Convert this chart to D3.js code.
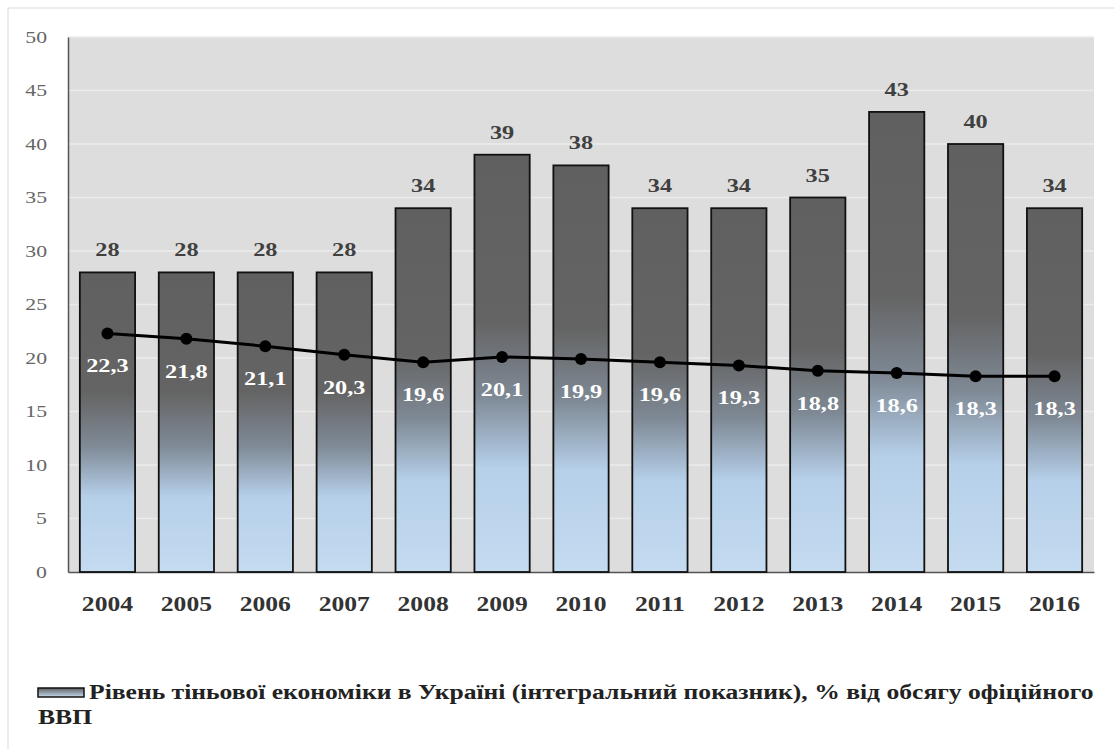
<!DOCTYPE html>
<html>
<head>
<meta charset="utf-8">
<script src="https://cdn.jsdelivr.net/npm/d3@7"></script>
<style>
  body { margin: 0; background: #fff; }
  svg { display: block; font-family: "Liberation Serif", "DejaVu Serif", serif; }
</style>
</head>
<body>
<svg class="figure" width="1114" height="749"></svg>
<script>
var years = ["2004", "2005", "2006", "2007", "2008", "2009", "2010", "2011", "2012", "2013", "2014", "2015", "2016"];
var shadowLevel = [28, 28, 28, 28, 34, 39, 38, 34, 34, 35, 43, 40, 34];
var lineValues = [22.3, 21.8, 21.1, 20.3, 19.6, 20.1, 19.9, 19.6, 19.3, 18.8, 18.6, 18.3, 18.3];
var yTicks = [0, 5, 10, 15, 20, 25, 30, 35, 40, 45, 50];
var legendLine1 = "Рівень тіньової економіки в Україні (інтегральний показник), % від обсягу офіційного";
var legendLine2 = "ВВП";

var svg = d3.select("svg.figure");
var plotLeft = 68, plotRight = 1094, plotTop = 37, plotBottom = 572;
var stretch = 1.28; // the picture is a bit wider than tall

var x = d3.scaleBand().domain(years).range([plotLeft, plotRight]).paddingInner(0.3).paddingOuter(0.15);
var y = d3.scaleLinear().domain([0, 50]).range([plotBottom, plotTop]);

function cx(i) { return x(years[i]) + x.bandwidth() / 2; }

// outer frame
svg.append("rect")
  .attr("x", 8).attr("y", 8)
  .attr("width", 1120).attr("height", 760)
  .attr("fill", "none")
  .attr("stroke", "#d9d9d9");

var defs = svg.append("defs");
var grad = defs.append("linearGradient")
  .attr("id", "barGrad")
  .attr("x1", 0).attr("y1", 0).attr("x2", 0).attr("y2", 1);
grad.append("stop").attr("offset", "0%").attr("stop-color", "#606060");
grad.append("stop").attr("offset", "40%").attr("stop-color", "#646464");
grad.append("stop").attr("offset", "58%").attr("stop-color", "#7f8a96");
grad.append("stop").attr("offset", "75%").attr("stop-color", "#b6d0ea");
grad.append("stop").attr("offset", "100%").attr("stop-color", "#c4dbf0");

var legGrad = defs.append("linearGradient")
  .attr("id", "legGrad")
  .attr("x1", 0).attr("y1", 0).attr("x2", 0).attr("y2", 1);
legGrad.append("stop").attr("offset", "0%").attr("stop-color", "#606060");
legGrad.append("stop").attr("offset", "100%").attr("stop-color", "#c4dbf0");

// plot background
svg.append("rect")
  .attr("x", plotLeft).attr("y", plotTop)
  .attr("width", plotRight - plotLeft).attr("height", plotBottom - plotTop)
  .attr("fill", "#dddddd");

// gridlines
svg.selectAll("line.grid")
  .data(yTicks.filter(function(d) { return d > 0; }))
  .enter()
  .append("line")
  .attr("class", "grid")
  .attr("x1", plotLeft).attr("x2", plotRight)
  .attr("y1", function(d) { return y(d); })
  .attr("y2", function(d) { return y(d); })
  .attr("stroke", "#ebebeb")
  .attr("stroke-width", 1.5);

// y axis
var yAxis = d3.axisLeft(y).tickValues(yTicks).tickSize(0).tickPadding(0);
var gy = svg.append("g").attr("transform", "translate(" + plotLeft + ",0)").call(yAxis);
gy.select(".domain").attr("stroke", "#555").attr("stroke-width", 1.5);
gy.selectAll("text")
  .attr("x", 0)
  .attr("transform", "translate(-21,0) scale(" + stretch + ",1)")
  .attr("fill", "#666")
  .style("font-size", "17px")
  .style("font-family", "Liberation Serif, serif");

// x axis
var xAxis = d3.axisBottom(x).tickSize(0).tickPadding(0);
var gx = svg.append("g").attr("transform", "translate(0," + plotBottom + ")").call(xAxis);
gx.select(".domain").attr("stroke", "#555").attr("stroke-width", 1.5);
gx.selectAll("text")
  .attr("y", 0).attr("dy", 0)
  .attr("transform", "translate(0,39) scale(" + stretch + ",1)")
  .attr("fill", "#333")
  .style("font-size", "20px")
  .style("font-weight", "bold")
  .style("font-family", "Liberation Serif, serif");

// bars
svg.selectAll("rect.bar")
  .data(shadowLevel)
  .enter()
  .append("rect")
  .attr("class", "bar")
  .attr("x", function(d, i) { return x(years[i]); })
  .attr("y", function(d) { return y(d); })
  .attr("width", x.bandwidth())
  .attr("height", function(d) { return y(0) - y(d); })
  .attr("fill", "url(#barGrad)")
  .attr("stroke", "#111")
  .attr("stroke-width", 1.8);

svg.selectAll("text.barLabel")
  .data(shadowLevel)
  .enter()
  .append("text")
  .attr("class", "barLabel")
  .attr("transform", function(d, i) {
    return "translate(" + cx(i) + "," + (y(d) - 16) + ") scale(" + stretch + ",1)";
  })
  .attr("text-anchor", "middle")
  .attr("fill", "#404040")
  .style("font-size", "19px")
  .style("font-weight", "bold")
  .text(function(d) { return d; });

// line
var line = d3.line()
  .x(function(d, i) { return cx(i); })
  .y(function(d) { return y(d); });

svg.append("path")
  .datum(lineValues)
  .attr("d", line)
  .attr("fill", "none")
  .attr("stroke", "#000")
  .attr("stroke-width", 3);

svg.selectAll("circle.pt")
  .data(lineValues)
  .enter()
  .append("circle")
  .attr("class", "pt")
  .attr("cx", function(d, i) { return cx(i); })
  .attr("cy", function(d) { return y(d); })
  .attr("r", 6)
  .attr("fill", "#000");

svg.selectAll("text.ptLabel")
  .data(lineValues)
  .enter()
  .append("text")
  .attr("class", "ptLabel")
  .attr("transform", function(d, i) {
    return "translate(" + cx(i) + "," + (y(d) + 39) + ") scale(" + stretch + ",1)";
  })
  .attr("text-anchor", "middle")
  .attr("fill", "#fff")
  .style("font-size", "19px")
  .style("font-weight", "bold")
  .text(function(d) { return d3.format(".1f")(d).replace(".", ","); });

// legend
svg.append("rect")
  .attr("x", 38).attr("y", 688)
  .attr("width", 46).attr("height", 9)
  .attr("fill", "url(#legGrad)")
  .attr("stroke", "#111")
  .attr("stroke-width", 1.5);

svg.append("text")
  .attr("transform", "translate(89,699) scale(" + stretch + ",1)")
  .attr("fill", "#222")
  .style("font-size", "20px")
  .style("font-weight", "bold")
  .text(legendLine1);

svg.append("text")
  .attr("transform", "translate(38,724) scale(" + stretch + ",1)")
  .attr("fill", "#222")
  .style("font-size", "20px")
  .style("font-weight", "bold")
  .text(legendLine2);
</script>
</body>
</html>
